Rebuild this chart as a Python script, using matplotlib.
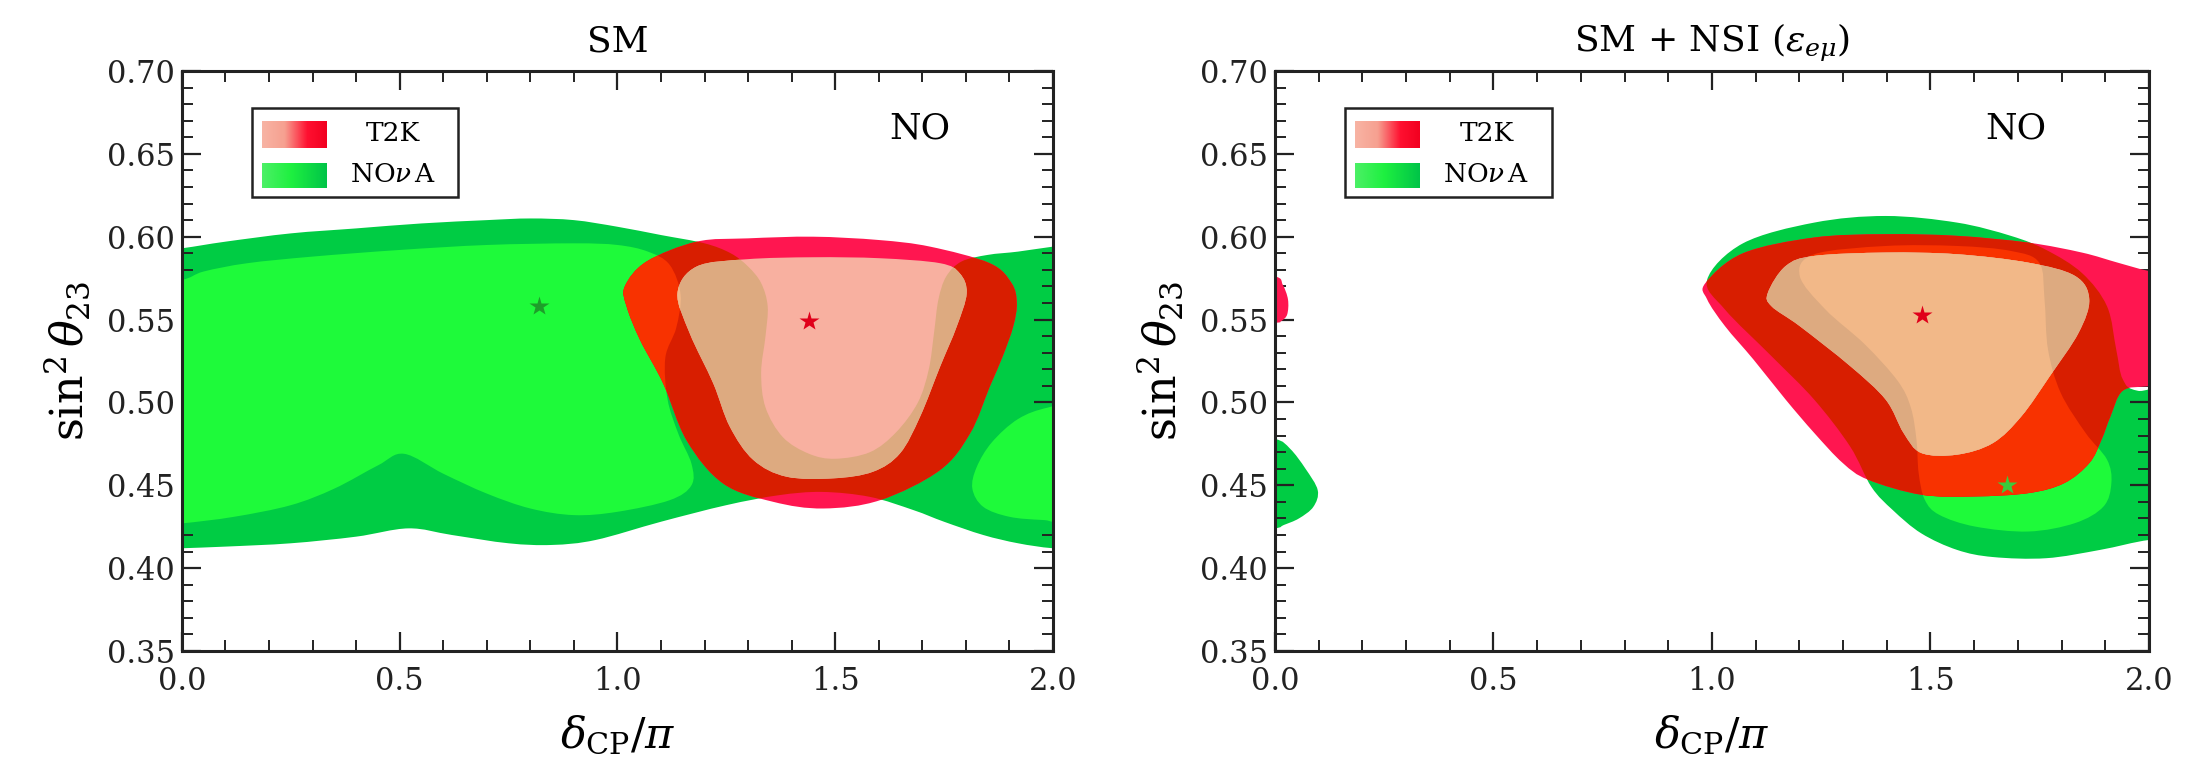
import numpy as np
import matplotlib
matplotlib.use("Agg")
import matplotlib.pyplot as plt
from matplotlib.path import Path
from matplotlib.patches import PathPatch, Rectangle
from matplotlib.ticker import FixedLocator, MultipleLocator
from matplotlib.colors import LinearSegmentedColormap

# ---------------------------------------------------------------- data
DCP_LIMITS = (0.0, 2.0)
S23_LIMITS = (0.35, 0.70)
X_TICKS = [0.0, 0.5, 1.0, 1.5, 2.0]
X_TICK_LABELS = ["0.0", "0.5", "1.0", "1.5", "2.0"]
Y_TICKS = [0.35, 0.40, 0.45, 0.50, 0.55, 0.60, 0.65, 0.70]
Y_TICK_LABELS = ["0.35", "0.40", "0.45", "0.50", "0.55", "0.60", "0.65", "0.70"]
PANEL_TITLES = ["SM", r"SM + NSI ($\varepsilon_{e\mu}$)"]
ORDERING_LABEL = "NO"
ORDERING_POS = (1.695, 0.665)
EXPERIMENTS = ["T2K", r"NO$\nu\,$A"]

# best-fit points (delta_CP/pi, sin^2 theta_23)
SM_T2K_BEST = (1.44, 0.549)
SM_NOVA_BEST = (0.82, 0.558)
NSI_T2K_BEST = (1.48, 0.553)
NSI_NOVA_BEST = (1.675, 0.450)

# allowed-region boundaries (delta_CP/pi, sin^2 theta_23), closed loops
SM_NOVA_OUTER = [
    (-0.10, 0.590), (0.00, 0.593), (0.10, 0.597), (0.25, 0.602), (0.40, 0.605),
    (0.55, 0.608), (0.70, 0.610), (0.80, 0.611), (0.90, 0.610), (1.00, 0.606),
    (1.10, 0.601), (1.20, 0.596), (1.26, 0.590), (1.30, 0.582), (1.33, 0.572),
    (1.345, 0.558), (1.34, 0.540), (1.33, 0.518), (1.34, 0.497), (1.38, 0.479),
    (1.44, 0.469), (1.50, 0.466), (1.58, 0.470), (1.64, 0.482), (1.69, 0.500),
    (1.715, 0.520), (1.727, 0.542), (1.737, 0.562), (1.755, 0.576), (1.79, 0.585),
    (1.85, 0.589), (1.92, 0.591), (2.00, 0.594), (2.10, 0.597), (2.10, 0.411),
    (2.00, 0.412), (1.92, 0.415), (1.84, 0.420), (1.75, 0.428), (1.68, 0.435),
    (1.58, 0.443), (1.47, 0.446), (1.37, 0.444), (1.25, 0.438), (1.10, 0.428),
    (0.95, 0.417), (0.85, 0.414), (0.75, 0.415), (0.62, 0.420), (0.52, 0.424),
    (0.40, 0.419), (0.25, 0.415), (0.10, 0.413), (0.00, 0.412), (-0.10, 0.411),
]
SM_NOVA_INNER = [
    (-0.10, 0.572), (0.00, 0.574), (0.05, 0.579), (0.15, 0.584), (0.30, 0.588),
    (0.50, 0.592), (0.70, 0.595), (0.90, 0.596), (1.00, 0.595), (1.07, 0.591),
    (1.12, 0.583), (1.145, 0.565), (1.135, 0.545), (1.11, 0.527), (1.115, 0.502),
    (1.14, 0.481), (1.17, 0.463), (1.17, 0.450), (1.12, 0.441), (1.00, 0.434),
    (0.90, 0.432), (0.80, 0.436), (0.70, 0.445), (0.60, 0.457), (0.51, 0.469),
    (0.45, 0.462), (0.35, 0.448), (0.25, 0.438), (0.12, 0.431), (0.00, 0.427),
    (-0.10, 0.425),
]
SM_NOVA_INNER_EDGE = [
    (2.10, 0.501), (1.99, 0.497), (1.92, 0.490), (1.86, 0.476), (1.825, 0.461),
    (1.815, 0.448), (1.84, 0.437), (1.90, 0.431), (1.98, 0.429), (2.10, 0.428),
]
SM_T2K_OUTER = [
    (1.182, 0.597), (1.30, 0.599), (1.45, 0.600), (1.60, 0.598), (1.718, 0.594),
    (1.855, 0.584), (1.905, 0.572), (1.917, 0.560), (1.909, 0.546), (1.885, 0.528),
    (1.855, 0.5095), (1.81, 0.4814), (1.74, 0.459), (1.603, 0.441), (1.473, 0.436),
    (1.358, 0.440), (1.243, 0.451), (1.159, 0.477), (1.105, 0.5115), (1.052, 0.5377),
    (1.021, 0.558), (1.017, 0.570), (1.067, 0.585),
]
SM_T2K_INNER = [
    (1.182, 0.582), (1.297, 0.5864), (1.45, 0.5876), (1.603, 0.587), (1.741, 0.584),
    (1.786, 0.5779), (1.802, 0.5659), (1.779, 0.5457), (1.741, 0.5216), (1.695, 0.4914),
    (1.649, 0.4693), (1.587, 0.4582), (1.496, 0.4542), (1.388, 0.4552), (1.312, 0.4653),
    (1.258, 0.4854), (1.22, 0.5115), (1.166, 0.5417), (1.138, 0.566),
]

NSI_NOVA_OUTER = [
    (0.989, 0.574), (1.071, 0.596), (1.234, 0.6085), (1.3975, 0.6125), (1.561, 0.6085),
    (1.684, 0.6005), (1.765, 0.592), (1.847, 0.578), (1.904, 0.558), (1.925, 0.532),
    (1.940, 0.514), (1.975, 0.507), (2.10, 0.505), (2.10, 0.418), (2.00, 0.417),
    (1.888, 0.411), (1.765, 0.406), (1.643, 0.4067), (1.561, 0.411), (1.479, 0.421),
    (1.414, 0.435), (1.365, 0.449), (1.316, 0.4735), (1.234, 0.5017), (1.136, 0.528),
    (1.03, 0.556),
]
NSI_NOVA_OUTER_EDGE = [
    (-0.10, 0.481), (0.00, 0.478), (0.035, 0.472), (0.07, 0.460), (0.098, 0.447),
    (0.088, 0.437), (0.055, 0.430), (0.02, 0.426), (0.00, 0.424), (-0.10, 0.421),
]
NSI_NOVA_INNER = [
    (1.201, 0.5763), (1.234, 0.5894), (1.3975, 0.5944), (1.561, 0.5944), (1.684, 0.5914),
    (1.749, 0.5843), (1.761, 0.5622), (1.769, 0.532), (1.798, 0.5058), (1.855, 0.4816),
    (1.904, 0.4655), (1.914, 0.4514), (1.896, 0.4372), (1.831, 0.4272), (1.724, 0.4221),
    (1.602, 0.4251), (1.52, 0.4322), (1.487, 0.4413), (1.473, 0.4574), (1.468, 0.4775),
    (1.455, 0.497), (1.425, 0.513), (1.35, 0.535), (1.26, 0.556),
]
NSI_T2K_OUTER = [
    (0.985, 0.572), (1.071, 0.590), (1.234, 0.5995), (1.3975, 0.6015), (1.561, 0.6005),
    (1.7245, 0.5964), (1.847, 0.5904), (1.929, 0.5843), (2.00, 0.5793), (2.10, 0.575),
    (2.10, 0.512), (2.00, 0.5098), (1.94, 0.507), (1.912, 0.4916), (1.8915, 0.4775),
    (1.8634, 0.4634), (1.806, 0.4513), (1.7245, 0.4453), (1.602, 0.4433), (1.479, 0.4443),
    (1.357, 0.4534), (1.2995, 0.4634), (1.234, 0.4816), (1.1687, 0.5017), (1.095, 0.5259),
    (1.030, 0.546), (0.989, 0.5622),
]
NSI_T2K_OUTER_EDGE = [
    (-0.10, 0.578), (0.00, 0.576), (0.018, 0.571), (0.030, 0.562), (0.028, 0.553),
    (0.014, 0.549), (0.00, 0.548), (-0.10, 0.546),
]
NSI_T2K_INNER = [
    (1.128, 0.5662), (1.1687, 0.5823), (1.234, 0.5884), (1.3975, 0.5904), (1.561, 0.5894),
    (1.7245, 0.5843), (1.831, 0.5763), (1.8634, 0.5622), (1.839, 0.542), (1.773, 0.5158),
    (1.708, 0.4916), (1.643, 0.4755), (1.561, 0.4685), (1.479, 0.4695), (1.4384, 0.4816),
    (1.3975, 0.5017), (1.316, 0.522), (1.201, 0.546), (1.136, 0.5581),
]

# ---------------------------------------------------------------- style
GREEN_DARK = "#00CC44"
GREEN_LIGHT = "#1EFA3A"
T2K_OUT_PLAIN = "#FF1650"      # outer T2K region on white
T2K_OUT_ON_DARK = "#D81E00"    # outer T2K region over outer NOvA region
T2K_OUT_ON_LIGHT = "#F83200"   # outer T2K region over inner NOvA region
T2K_IN_PLAIN = "#F8B0A0"
T2K_IN_ON_DARK = "#DDAA80"
T2K_IN_ON_LIGHT = "#F2B888"

plt.rcParams["font.family"] = ["DejaVu Serif"]
plt.rcParams["mathtext.fontset"] = "dejavuserif"


def smooth_path(points):
    """Closed Catmull-Rom curve through the boundary points, as cubic Beziers."""
    p = np.asarray(points, dtype=float)
    n = len(p)
    verts = [p[0]]
    codes = [Path.MOVETO]
    for i in range(n):
        p0, p1, p2, p3 = p[i - 1], p[i], p[(i + 1) % n], p[(i + 2) % n]
        verts += [p1 + (p2 - p0) / 6.0, p2 - (p3 - p1) / 6.0, p2]
        codes += [Path.CURVE4] * 3
    verts.append(p[0])
    codes.append(Path.CLOSEPOLY)
    return Path(verts, codes)


def add_region(ax, pts, color, z, clip=None):
    patch = PathPatch(smooth_path(pts), facecolor=color, edgecolor="none",
                      lw=0, transform=ax.transData, zorder=z)
    ax.add_patch(patch)
    if clip is not None:
        patch.set_clip_path(clip)
    return patch


def draw_panel(ax, nova_outer, nova_inner, t2k_outer, t2k_inner,
               t2k_best, nova_best, nova_star_color):
    outer_clips = [add_region(ax, r, GREEN_DARK, 1) for r in nova_outer]
    inner_clips = [add_region(ax, r, GREEN_LIGHT, 2) for r in nova_inner]

    for r in t2k_outer:
        add_region(ax, r, T2K_OUT_PLAIN, 3)
        for c in outer_clips:
            add_region(ax, r, T2K_OUT_ON_DARK, 3.1, clip=c)
        for c in inner_clips:
            add_region(ax, r, T2K_OUT_ON_LIGHT, 3.2, clip=c)
    for r in t2k_inner:
        add_region(ax, r, T2K_IN_PLAIN, 4)
        for c in outer_clips:
            add_region(ax, r, T2K_IN_ON_DARK, 4.1, clip=c)
        for c in inner_clips:
            add_region(ax, r, T2K_IN_ON_LIGHT, 4.2, clip=c)

    ax.plot(*nova_best, marker="*", ms=15, color=nova_star_color, mec="none", zorder=6)
    ax.plot(*t2k_best, marker="*", ms=15, color="#E0001A", mec="none", zorder=6)


def draw_key(ax):
    ax.add_patch(Rectangle((0.080, 0.783), 0.237, 0.153, transform=ax.transAxes,
                           facecolor="white", edgecolor="#222222", lw=1.8, zorder=10))
    grad = np.linspace(0, 1, 256).reshape(1, -1)
    cm_t2k = LinearSegmentedColormap.from_list(
        "t2k", [(0, "#F8B4A4"), (0.35, "#F6A090"), (0.7, "#FF1030"), (1, "#F20020")])
    cm_nova = LinearSegmentedColormap.from_list(
        "nova", [(0, "#4CF066"), (0.45, "#1EF040"), (1, "#00C448")])
    ax.imshow(grad, cmap=cm_t2k, extent=(0.092, 0.166, 0.867, 0.912),
              transform=ax.transAxes, aspect="auto", zorder=11, interpolation="bilinear")
    ax.imshow(grad, cmap=cm_nova, extent=(0.092, 0.166, 0.798, 0.841),
              transform=ax.transAxes, aspect="auto", zorder=11, interpolation="bilinear")
    ax.text(0.242, 0.893, EXPERIMENTS[0], transform=ax.transAxes, ha="center",
            va="center", fontsize=19, zorder=12)
    ax.text(0.242, 0.821, EXPERIMENTS[1], transform=ax.transAxes, ha="center",
            va="center", fontsize=19, zorder=12)


def style_axes(ax, title):
    ax.set_xlim(*DCP_LIMITS)
    ax.set_ylim(*S23_LIMITS)
    ax.set_aspect("auto")
    ax.xaxis.set_major_locator(FixedLocator(X_TICKS))
    ax.set_xticklabels(X_TICK_LABELS)
    ax.yaxis.set_major_locator(FixedLocator(Y_TICKS))
    ax.set_yticklabels(Y_TICK_LABELS)
    ax.xaxis.set_minor_locator(MultipleLocator(0.1))
    ax.yaxis.set_minor_locator(MultipleLocator(0.01))
    ax.tick_params(which="both", direction="in", top=True, right=True,
                   labelsize=22, colors="#222222")
    ax.tick_params(which="major", length=14, width=1.6)
    ax.tick_params(which="minor", length=8, width=1.4)
    ax.tick_params(axis="x", pad=11)
    ax.tick_params(axis="y", pad=5)
    for sp in ax.spines.values():
        sp.set_linewidth(2.2)
        sp.set_color("#222222")
        sp.set_zorder(20)
    ax.set_xlabel(r"$\delta_{\rm CP}/\pi$", fontsize=31, labelpad=12)
    ax.set_ylabel(r"$\sin^2\theta_{23}$", fontsize=32, labelpad=10)
    ax.set_title(title, fontsize=26, pad=14)
    ax.text(*ORDERING_POS, ORDERING_LABEL, fontsize=26, ha="center", va="center", zorder=12)


fig = plt.figure(figsize=(22, 7.79), dpi=100)
ax1 = fig.add_axes([0.0827, 0.1643, 0.3959, 0.7446])
ax2 = fig.add_axes([0.5795, 0.1643, 0.3973, 0.7446])

draw_panel(ax1, [SM_NOVA_OUTER], [SM_NOVA_INNER, SM_NOVA_INNER_EDGE],
           [SM_T2K_OUTER], [SM_T2K_INNER], SM_T2K_BEST, SM_NOVA_BEST, "#1E9E2A")
draw_panel(ax2, [NSI_NOVA_OUTER, NSI_NOVA_OUTER_EDGE], [NSI_NOVA_INNER],
           [NSI_T2K_OUTER, NSI_T2K_OUTER_EDGE], [NSI_T2K_INNER],
           NSI_T2K_BEST, NSI_NOVA_BEST, "#3CCB3C")

for ax, title in zip((ax1, ax2), PANEL_TITLES):
    draw_key(ax)
    style_axes(ax, title)

fig.savefig("out.png", dpi=100)
